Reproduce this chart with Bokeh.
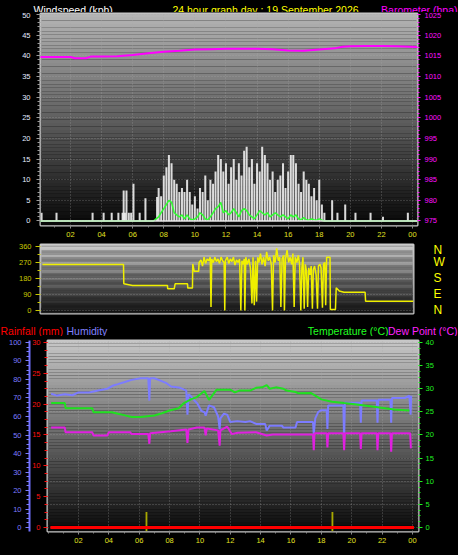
import numpy as np
from bokeh.plotting import figure
from bokeh.layouts import column
from bokeh.models import Range1d, LinearAxis, FixedTicker, Span, Grid
from bokeh.core.properties import value
from bokeh.embed import file_html
from bokeh.resources import INLINE

FONT = "Liberation Sans"

# ---------------- data ----------------
hour_ticks = [2, 4, 6, 8, 10, 12, 14, 16, 18, 20, 22, 24]
hour_labels = ["02", "04", "06", "08", "10", "12", "14", "16", "18", "20", "22", "00"]
wind_ticks = [0, 5, 10, 15, 20, 25, 30, 35, 40, 45, 50]
baro_ticks = [975, 980, 985, 990, 995, 1000, 1005, 1010, 1015, 1020, 1025]
dir_ticks = [0, 90, 180, 270, 360]
compass_labels = ["N", "E", "S", "W", "N"]
hum_ticks = [0, 10, 20, 30, 40, 50, 60, 70, 80, 90, 100]
rain_ticks = [0, 5, 10, 15, 20, 25, 30]
temp_ticks = [0, 5, 10, 15, 20, 25, 30, 35, 40]

baro_h = [0, 1, 2, 2.3, 3, 3.3, 4, 5, 6, 7, 8, 9, 10, 11, 12, 13, 14, 15, 16, 17,
          18, 19, 19.5, 20, 21, 22, 23, 24.3]
baro_v = [1014.7, 1014.7, 1014.7, 1014.4, 1014.4, 1014.8, 1014.8, 1014.9, 1015.2, 1015.6,
          1016.0, 1016.2, 1016.5, 1016.6, 1016.7, 1016.7, 1016.7, 1016.6, 1016.3, 1016.2,
          1016.5, 1016.8, 1017.2, 1017.3, 1017.4, 1017.4, 1017.3, 1017.1]

gust_h = [0.14, 1.1, 3.42, 4.13, 4.65, 5.08, 5.35, 5.42, 5.5, 5.6, 5.75, 5.9, 6.05, 6.45, 6.82, 7.57,
          7.67, 7.83, 8.0, 8.17, 8.33, 8.5, 8.67, 8.83, 9.0, 9.17,
          9.33, 9.5, 9.67, 9.83, 10.0, 10.17,
          10.33, 10.5, 10.67, 10.83, 11.0, 11.17,
          11.33, 11.5, 11.67, 11.83, 12.0, 12.17,
          12.33, 12.5, 12.67, 12.83, 13.0, 13.17,
          13.33, 13.5, 13.67, 13.83, 14.0, 14.17,
          14.33, 14.5, 14.67, 14.83, 15.0, 15.17,
          15.33, 15.5, 15.67, 15.83, 16.0, 16.17,
          16.33, 16.5, 16.67, 16.83, 17.0, 17.17,
          17.33, 17.5, 17.67, 17.83, 18.0, 18.17,
          18.33, 18.83, 19.17, 19.67, 20.33, 21.3, 22.1, 23.7]
gust_v = [2, 2, 2, 2, 2, 2, 2, 7.4, 2, 7.4, 2, 2, 9, 2, 5.5, 5.8,
          8, 6, 11, 13, 16, 14, 10, 9, 7, 8,
          7, 10, 7, 4, 6, 3,
          8, 7, 11, 5, 10, 9,
          12, 16, 15, 12, 14, 9,
          13, 15, 10, 14, 11, 17,
          18, 13, 15, 9, 14, 12,
          18, 16, 14, 10, 12, 7,
          10, 11, 14, 8, 12, 16,
          16, 14, 9, 7, 12, 10,
          9, 6, 8, 5, 10, 4,
          2, 5, 2, 4, 2, 2, 1, 2]

avg_h = [0, 7.33,
         7.5, 7.67, 7.83, 8.0, 8.17, 8.33, 8.5, 8.67, 8.83, 9.0,
         9.17, 9.33, 9.5, 9.67, 9.83, 10.0,
         10.17, 10.33, 10.5, 10.67, 10.83, 11.0,
         11.17, 11.33, 11.5, 11.67, 11.83, 12.0,
         12.17, 12.33, 12.5, 12.67, 12.83, 13.0,
         13.17, 13.33, 13.5, 13.67, 13.83, 14.0,
         14.17, 14.33, 14.5, 14.67, 14.83, 15.0,
         15.17, 15.33, 15.5, 15.67, 15.83, 16.0,
         16.17, 16.33, 16.5, 16.67, 16.83, 17.0,
         17.17, 17.33, 17.5, 17.67, 17.83, 18.0,
         18.17, 18.33, 24.3]
avg_v = [0, 0,
         0.5, 1, 2, 3, 4, 5, 4.5, 2, 1.5, 1,
         1.5, 0.5, 1.5, 0.5, 0.3, 0.5,
         1, 2, 1.5, 0.5, 0.3, 1,
         2, 3, 3.5, 4.5, 2, 2.5,
         1.5, 2, 3, 2, 1, 2.5,
         3, 2.5, 1.5, 1, 0.5, 1.5,
         2.5, 2, 1.5, 2, 1, 1.5,
         2, 1.5, 1, 1.5, 1, 0.5,
         1.5, 1, 1.5, 0.5, 0.3, 0.8,
         0.3, 0.2, 0.5, 0.3, 0.2, 0.5,
         0.2, 0, 0]

dir_h = [0.0, 5.24, 5.26, 5.82, 8.08, 8.10, 8.52, 8.58, 9.38, 9.40, 9.70, 9.72, 9.81, 10.10,
         10.13, 10.25, 10.35, 10.45, 10.55, 10.65, 10.75, 10.85, 10.90, 10.95,
         11.05, 11.15, 11.25, 11.35, 11.45, 11.55, 11.65, 11.75, 11.79, 11.83,
         11.95, 12.05, 12.15, 12.25, 12.35, 12.45, 12.55, 12.65, 12.75, 12.83,
         12.90, 12.98, 13.05, 13.09, 13.15, 13.25, 13.35, 13.45, 13.55, 13.62,
         13.70, 13.78, 13.85, 13.92, 14.00, 14.10, 14.20, 14.30, 14.40, 14.50,
         14.60, 14.70, 14.80, 14.88, 14.95, 15.05, 15.15, 15.25, 15.35, 15.42,
         15.50, 15.60, 15.65, 15.72, 15.82, 15.92, 16.02, 16.12, 16.20, 16.28,
         16.35, 16.45, 16.55, 16.63, 16.71, 16.78, 16.85, 16.93, 17.00, 17.08,
         17.15, 17.22, 17.30, 17.38, 17.46, 17.52, 17.60, 17.70, 17.79, 17.85,
         17.95, 18.02, 18.11, 18.18, 18.26, 18.32, 18.38, 18.50, 18.60, 18.62,
         18.95, 19.00, 19.20, 19.50, 20.87, 20.90, 24.00]
dir_v = [259, 259, 150, 141, 141, 122, 122, 150, 150, 126, 126, 262, 221, 221,
         270, 285, 250, 300, 265, 290, 280, 300, 20, 290,
         270, 300, 275, 290, 265, 300, 280, 270, 0, 280,
         300, 265, 290, 275, 300, 255, 285, 270, 290, 0,
         280, 260, 290, 0, 300, 260, 290, 240, 40, 300,
         30, 280, 50, 300, 270, 320, 260, 300, 250, 330,
         280, 300, 260, 0, 310, 270, 350, 280, 300, 20,
         290, 310, 0, 290, 340, 270, 300, 260, 320, 20,
         300, 270, 310, 260, 0, 240, 300, 10, 260, 220,
         20, 240, 200, 250, 10, 230, 250, 200, 10, 250,
         260, 240, 15, 260, 270, 30, 300, 300, 300, 6,
         6, 128, 110, 103, 103, 52, 52]

hum_h = [0.2, 0.6, 1.1, 1.6, 2.0, 2.7, 3.3, 3.9, 4.3, 4.6,
         5.0, 5.5, 6.1, 6.6, 6.67, 6.72, 7.0, 7.4, 7.8, 8.1,
         8.7, 9.1, 9.18, 9.25, 9.4, 9.6, 9.83, 10.1, 10.3, 10.38,
         10.6, 10.93, 11.2, 11.3, 11.35, 11.58, 11.8, 12.0, 12.46, 13.0,
         13.3, 13.7, 14.3, 14.4, 14.6, 15.4, 15.5, 16.3, 16.4, 17.3,
         17.45, 17.5, 17.6, 17.8, 18.0, 18.35, 18.4, 18.45, 19.45, 19.5,
         19.55, 20.55, 20.6, 20.65, 21.65, 21.7, 21.75, 22.55, 22.6, 22.65,
         23.5, 23.8, 23.88, 23.92]
hum_v = [72.3, 71.3, 72, 71.5, 73, 73, 74, 75, 76.8, 77.5,
         78.5, 79.8, 80.7, 80.7, 68.6, 80.7, 80.7, 79.4, 78, 76.2,
         75.5, 74, 61, 72, 71, 69, 67, 63, 62.3, 60.5,
         66, 65, 60, 53, 59, 61.5, 61, 57, 57.5, 57,
         57.5, 56, 56, 52.4, 55, 55, 54, 54, 57, 57,
         57, 50.6, 59, 62.5, 63.4, 63.4, 53.3, 66, 66, 47,
         67.4, 67.4, 56.6, 68.6, 68.6, 56.6, 69, 69, 56.6, 70,
         70, 71.3, 61, 71.3]

temp_h = [0.2, 1.1, 1.15, 2.9, 3.0, 4.2, 4.6, 5.0, 5.5, 6.1,
          7.0, 7.5, 8.0, 8.6, 8.95, 9.4, 9.8, 10.3, 10.6, 11.1,
          12.0, 12.3, 12.6, 13.3, 13.7, 14.1, 14.4, 14.6, 15.0, 15.5,
          15.7, 16.3, 16.5, 17.3, 17.6, 18.0, 18.7, 19.5, 20.6, 21.7,
          22.8, 23.8]
temp_v = [26.9, 26.9, 25.8, 25.8, 24.9, 24.9, 24.6, 24.3, 23.9, 23.9,
          24.2, 24.7, 25.3, 25.8, 26.9, 27.7, 28.2, 29.5, 27.6, 29.8,
          29.8, 29.2, 29.6, 29.6, 30.2, 30.3, 30.8, 30.0, 30.3, 30.0,
          29.6, 29.3, 29.0, 29.1, 28.5, 27.7, 27.2, 26.9, 26.5, 26.0,
          25.5, 25.3]

dew_h = [0.2, 1.1, 1.15, 2.9, 3.0, 3.9, 4.0, 5.4, 5.5, 6.6,
         6.67, 6.72, 8.1, 9.1, 9.18, 9.25, 9.8, 10.3, 10.38, 10.45,
         11.2, 11.3, 11.35, 11.8, 12.1, 12.5, 13.7, 14.4, 14.8, 17.45,
         17.5, 17.55, 18.35, 18.4, 18.45, 19.45, 19.5, 19.55, 20.55, 20.6,
         20.65, 21.65, 21.7, 21.75, 22.55, 22.6, 22.65, 23.85, 23.9]
dew_v = [21.6, 21.6, 20.6, 20.6, 19.9, 19.9, 20.6, 20.6, 20.2, 20.2,
         18.1, 20.4, 20.8, 21.2, 18.3, 21.2, 21.6, 21.6, 19.9, 21.4,
         21.0, 17.7, 21.0, 21.8, 20.2, 20.5, 20.6, 19.9, 20.1, 20.1,
         16.7, 20.4, 20.4, 17.3, 20.4, 20.4, 16.7, 20.4, 20.4, 17.0,
         20.4, 20.4, 16.7, 20.4, 20.4, 16.4, 20.4, 20.4, 17.1]

rain_h = [0.15, 24.1]
rain_v = [0.0, 0.0]
rate_h = [6.48, 18.73]
rate_v = [2.5, 2.5]

# ---------------- helpers ----------------
def make_fig(fw, fh, xr, yr, bl, br, bt, bb, **kw):
    return figure(frame_width=fw, frame_height=fh, x_range=xr, y_range=yr,
                  min_border_left=bl, min_border_right=br, min_border_top=bt,
                  min_border_bottom=bb, output_backend="svg", toolbar_location=None,
                  background_fill_color="#000000", border_fill_color="#000000",
                  outline_line_color="#c8c8c8", outline_line_width=2, **kw)


def title_fig(h):
    t = figure(frame_width=466, frame_height=h, x_range=Range1d(0, 466), y_range=Range1d(h, 0),
               min_border=0, min_border_left=0, min_border_right=0, min_border_top=0,
               min_border_bottom=0, x_axis_type=None, y_axis_type=None,
               output_backend="svg", toolbar_location=None, frame_align=False,
               background_fill_color="#000000", border_fill_color="#000000",
               outline_line_color=None)
    t.title.visible = False
    return t


# the title strips sit 7 px left of the page edge in this layout, so positions are offset by 7
TX = 7


def put_text(t, x, y, text, color, align):
    t.text(x=[x + TX], y=[y], text=[text], text_color=color, text_font=value(FONT),
           text_font_size=value("10.5px"), text_align=value(align),
           text_baseline=value("alphabetic"))


def gradient(p, top_gray, bottom_gray, n=60):
    xr, yr = p.x_range, p.y_range
    edges = np.linspace(yr.start, yr.end, n + 1)
    grays = np.linspace(bottom_gray, top_gray, n).round().astype(int)
    cols = ["#%02x%02x%02x" % (g, g, g) for g in grays]
    p.quad(left=xr.start, right=xr.end, bottom=edges[:-1], top=edges[1:],
           fill_color=cols, line_color=None, level="image")


def style_axis(ax, color, tick_color=None, size="7.5px", standoff=3, tick_out=4,
               minor_out=2, line_color=None):
    ax.major_label_text_color = color
    ax.major_label_text_font = FONT
    ax.major_label_text_font_size = size
    ax.major_label_standoff = standoff
    tc = tick_color or color
    ax.major_tick_line_color = tc
    ax.minor_tick_line_color = tc
    ax.major_tick_in = 0
    ax.major_tick_out = tick_out
    ax.minor_tick_in = 0
    ax.minor_tick_out = minor_out
    ax.axis_line_color = line_color


GRID_COLOR = "#a8a8a8"
hour_map = dict(zip(hour_ticks, hour_labels))
hour_minor = list(range(0, 25))

# ---------------- title row 1 (12 px tall so descenders are not clipped) ----------------
t1 = title_fig(12)
put_text(t1, 34, 9.4, "Windspeed (kph)", "#ffffff", "left")
put_text(t1, 266, 9.4, "24 hour graph day : 19 September 2026", "#ffff00", "center")
put_text(t1, 458, 9.4, "Barometer (hpa)", "#ff00ff", "right")

# ---------------- top: wind + barometer ----------------
p1 = make_fig(377, 212, Range1d(0.07, 24.32), Range1d(-1.09, 50.24), 42, 47, 1, 17)
p1.extra_y_ranges = {"baro": Range1d(973.91, 1025.24)}
gradient(p1, 180, 8)

p1.xaxis.ticker = FixedTicker(ticks=hour_ticks, minor_ticks=hour_minor)
p1.xaxis.major_label_overrides = hour_map
style_axis(p1.xaxis[0], "#e0e020", tick_color="#8a8a8a", standoff=3, tick_out=3, minor_out=2)
p1.yaxis.ticker = FixedTicker(ticks=wind_ticks, minor_ticks=list(range(0, 51)))
style_axis(p1.yaxis[0], "#e4ecff", tick_color="#9a9a9a", standoff=6, tick_out=4, minor_out=3)
baro_axis = LinearAxis(y_range_name="baro",
                       ticker=FixedTicker(ticks=baro_ticks, minor_ticks=list(range(975, 1026))))
style_axis(baro_axis, "#ff10ff", standoff=4, tick_out=3, minor_out=2)
p1.add_layout(baro_axis, "right")

p1.xgrid.grid_line_color = GRID_COLOR
p1.ygrid.grid_line_color = GRID_COLOR
for g in (p1.xgrid[0], p1.ygrid[0]):
    g.grid_line_dash = "1 2"
    g.grid_line_alpha = 0.5

p1.add_layout(Span(location=0, dimension="width", line_color="#e8e8e8", line_width=1.5))
p1.vbar(x=gust_h, top=gust_v, bottom=0, width=0.13, fill_color="#f0f0f0",
        fill_alpha=0.9, line_color=None)
p1.line(avg_h, avg_v, line_color="#30ff30", line_width=1.5)
p1.line(baro_h, baro_v, y_range_name="baro", line_color="#ff00ff", line_width=2)

# ---------------- middle: wind direction ----------------
p2 = make_fig(373, 69, Range1d(-0.13, 24.0), Range1d(-16.9, 371.2), 48, 45, 2, 5)
gradient(p2, 205, 20)
p2.xaxis.visible = False
p2.xgrid.grid_line_color = None
p2.yaxis.ticker = FixedTicker(ticks=dir_ticks, minor_ticks=[45, 135, 225, 315])
style_axis(p2.yaxis[0], "#c8c800", standoff=4, tick_out=5, minor_out=3)
comp_axis = LinearAxis(ticker=FixedTicker(ticks=dir_ticks, minor_ticks=[]),
                       major_label_overrides=dict(zip(dir_ticks, compass_labels)))
style_axis(comp_axis, "#ffff00", size="12px", standoff=20, tick_out=0, minor_out=0)
comp_axis.major_tick_line_color = None
p2.add_layout(comp_axis, "right")
p2.ygrid.grid_line_color = GRID_COLOR
p2.ygrid.grid_line_dash = "1 2"
p2.ygrid.grid_line_alpha = 0.5
p2.line(dir_h, dir_v, line_color="#f0f000", line_width=1.5)

# ---------------- title row 2 ----------------
t2 = title_fig(18)
put_text(t2, 1, 12.5, "Rainfall (mm)", "#ff0000", "left")
put_text(t2, 67, 12.5, "Humidity", "#8080ff", "left")
put_text(t2, 389, 12.5, "Temperature (°C)", "#20ff20", "right")
put_text(t2, 458, 12.5, "Dew Point (°C)", "#ff20ff", "right")

# ---------------- bottom: rain / humidity / temperature / dew point ----------------
p3 = make_fig(371, 191, Range1d(-0.04, 24.4), Range1d(-0.65, 30.32), 43, 45, 4, 24,
              margin=(0, 0, 0, 7))
p3.extra_y_ranges = {"hum": Range1d(-2.16, 101.08), "temp": Range1d(-0.865, 40.43)}
gradient(p3, 198, 10)

p3.xaxis.ticker = FixedTicker(ticks=hour_ticks, minor_ticks=hour_minor)
p3.xaxis.major_label_overrides = hour_map
style_axis(p3.xaxis[0], "#e0e020", tick_color="#8a8a8a", standoff=3, tick_out=3, minor_out=2)

p3.yaxis.ticker = FixedTicker(ticks=rain_ticks, minor_ticks=list(np.arange(0, 30.01, 1.25)))
style_axis(p3.yaxis[0], "#ff1010", standoff=3, tick_out=4, minor_out=3)
hum_axis = LinearAxis(y_range_name="hum",
                      ticker=FixedTicker(ticks=hum_ticks, minor_ticks=list(np.arange(0, 100.01, 2.5))))
style_axis(hum_axis, "#7c7cff", standoff=4, tick_out=4, minor_out=3, line_color="#7070ff")
hum_axis.axis_line_width = 2
p3.add_layout(hum_axis, "left")
temp_axis = LinearAxis(y_range_name="temp",
                       ticker=FixedTicker(ticks=temp_ticks, minor_ticks=list(np.arange(0, 40.01, 1.25))))
style_axis(temp_axis, "#20f020", standoff=3, tick_out=4, minor_out=2)
p3.add_layout(temp_axis, "right")

p3.xgrid.grid_line_color = GRID_COLOR
p3.xgrid.grid_line_dash = "1 2"
p3.xgrid.grid_line_alpha = 0.5
p3.ygrid.grid_line_color = None
p3.add_layout(Grid(dimension=1, y_range_name="temp", ticker=FixedTicker(ticks=temp_ticks),
                   grid_line_color=GRID_COLOR, grid_line_dash="1 2", grid_line_alpha=0.5))

p3.vbar(x=rate_h, top=rate_v, bottom=-0.6, width=0.12, fill_color="#a8a800", line_color=None)
p3.line(rain_h, rain_v, line_color="#ff0000", line_width=3)
p3.line(hum_h, hum_v, y_range_name="hum", line_color="#7c7cff", line_width=2)
p3.line(temp_h, temp_v, y_range_name="temp", line_color="#20e020", line_width=2)
p3.line(dew_h, dew_v, y_range_name="temp", line_color="#e020e0", line_width=2)

layout = column(t1, p1, p2, t2, p3, spacing=0, margin=(0, -8, -8, -8),
                styles={"background-color": "#000000"})

open("out.html", "w").write(file_html(layout, INLINE))
